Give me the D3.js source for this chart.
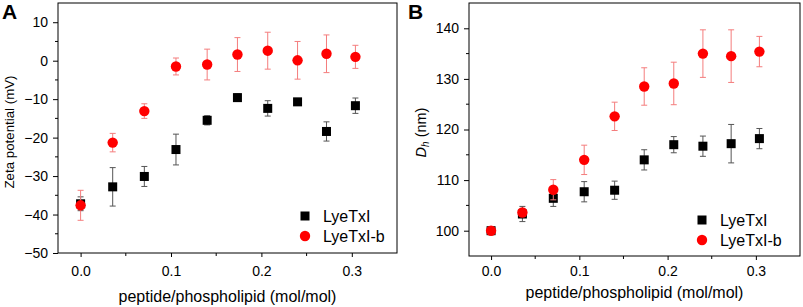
<!DOCTYPE html>
<html>
<head>
<meta charset="utf-8">
<script src="https://cdn.jsdelivr.net/npm/d3@7"></script>
<style>
  body { margin: 0; background: #fff; }
  svg text { font-family: "Liberation Sans", Arial, sans-serif; }
</style>
</head>
<body>
<div id="chart"></div>
<script>
// x values (peptide/phospholipid ratio)
const ratios = [0, 0.0355, 0.0705, 0.1055, 0.14, 0.1735, 0.207, 0.24, 0.272, 0.304];

// Panel A: zeta potential (mV)
const zetaLye = [-37.2, -32.8, -30.1, -23.1, -15.5, -9.6, -12.4, -10.7, -18.4, -11.7];
const zetaLyeErr = [1.8, 5.0, 2.6, 4.0, 1.2, 1.0, 2.0, 0.7, 2.5, 2.0];
const zetaLyeB = [-37.6, -21.3, -13.1, -1.5, -1.0, 1.6, 2.6, 0.1, 1.8, 1.0];
const zetaLyeBErr = [3.9, 2.4, 1.9, 2.2, 4.0, 4.4, 4.8, 4.9, 4.9, 3.0];

// Panel B: hydrodynamic diameter (nm)
const dhLye = [100, 103.3, 106.4, 107.7, 108.0, 114.0, 117.0, 116.7, 117.2, 118.2];
const dhLyeErr = [0.3, 1.5, 1.6, 2.0, 1.8, 2.0, 1.6, 2.0, 3.8, 2.0];
const dhLyeB = [100, 103.6, 108.1, 114.0, 122.6, 128.5, 129.1, 135.0, 134.5, 135.4];
const dhLyeBErr = [0.2, 0.8, 2.0, 2.9, 2.8, 3.7, 4.2, 4.7, 5.2, 3.0];

const xTicks = [0, 0.1, 0.2, 0.3];
const xMinor = [0.05, 0.15, 0.25];
const seriesNames = ["LyeTxI", "LyeTxI-b"];

const svg = d3.select("#chart").append("svg")
  .attr("width", 803)
  .attr("height", 307);

function panel(opt) {
  const g = svg.append("g");
  const x = d3.scaleLinear().domain([-0.025, 0.35]).range([opt.left, opt.right]);
  const y = d3.scaleLinear().domain(opt.yDomain).range([opt.bottom, opt.top]);

  // frame
  g.append("rect")
    .attr("x", opt.left).attr("y", opt.top)
    .attr("width", opt.right - opt.left).attr("height", opt.bottom - opt.top)
    .attr("fill", "none").attr("stroke", "#000").attr("stroke-width", 1);

  // x axis
  const xa = g.append("g")
    .attr("transform", `translate(0,${opt.bottom})`)
    .call(d3.axisBottom(x).tickValues(xTicks).tickSize(4).tickPadding(opt.xPad).tickFormat(d3.format(".1f")));
  xa.select(".domain").remove();
  xa.selectAll("text").style("font-size", "14px").style("font-family", "Liberation Sans, Arial");
  g.append("g").selectAll("line").data(xMinor).join("line")
    .attr("x1", d => x(d)).attr("x2", d => x(d))
    .attr("y1", opt.bottom).attr("y2", opt.bottom + 3)
    .attr("stroke", "#000");

  // y axis
  const ya = g.append("g")
    .attr("transform", `translate(${opt.left},0)`)
    .call(d3.axisLeft(y).tickValues(opt.yTicks).tickSize(5).tickPadding(5));
  ya.select(".domain").remove();
  ya.selectAll("text").style("font-size", "14px").style("font-family", "Liberation Sans, Arial");
  g.append("g").selectAll("line").data(opt.yMinor).join("line")
    .attr("x1", opt.left).attr("x2", opt.left - 3)
    .attr("y1", d => y(d)).attr("y2", d => y(d))
    .attr("stroke", "#000");

  // x title
  g.append("text")
    .attr("x", (opt.left + opt.right) / 2)
    .attr("y", opt.xTitleY)
    .attr("text-anchor", "middle")
    .style("font-size", "16px")
    .text("peptide/phospholipid (mol/mol)");

  // panel letter
  g.append("text")
    .attr("x", opt.letterX).attr("y", 19)
    .style("font-size", "21px").style("font-weight", "bold")
    .text(opt.letter);

  const series = [
    {vals: opt.black, err: opt.blackErr, color: "#000", errColor: "#555", shape: "square"},
    {vals: opt.red, err: opt.redErr, color: "#ff0000", errColor: "#f47d7d", shape: "circle"}
  ];

  series.forEach(s => {
    const sg = g.append("g");
    const pts = ratios.map((r, i) => ({x: r, v: s.vals[i], e: s.err[i]}));
    sg.selectAll(".bar").data(pts).join("line")
      .attr("x1", d => x(d.x)).attr("x2", d => x(d.x))
      .attr("y1", d => y(d.v - d.e)).attr("y2", d => y(d.v + d.e))
      .attr("stroke", s.errColor).attr("stroke-width", 1);
    [-1, 1].forEach(sign => {
      sg.append("g").selectAll("line").data(pts).join("line")
        .attr("x1", d => x(d.x) - 3).attr("x2", d => x(d.x) + 3)
        .attr("y1", d => y(d.v + sign * d.e)).attr("y2", d => y(d.v + sign * d.e))
        .attr("stroke", s.errColor).attr("stroke-width", 1);
    });
    if (s.shape === "square") {
      sg.append("g").selectAll("rect").data(pts).join("rect")
        .attr("x", d => x(d.x) - 4.5).attr("y", d => y(d.v) - 4.5)
        .attr("width", 9).attr("height", 9)
        .attr("fill", s.color);
    } else {
      sg.append("g").selectAll("circle").data(pts).join("circle")
        .attr("cx", d => x(d.x)).attr("cy", d => y(d.v))
        .attr("r", 5.2)
        .attr("fill", s.color);
    }
  });

  // legend
  const lg = g.append("g").attr("transform", `translate(${opt.legX},${opt.legY})`);
  seriesNames.forEach((name, i) => {
    const row = lg.append("g").attr("transform", `translate(0,${i * 20})`);
    if (i === 0) {
      row.append("rect").attr("x", -4.5).attr("y", -4.5).attr("width", 9).attr("height", 9).attr("fill", "#000");
    } else {
      row.append("circle").attr("r", 5.2).attr("fill", "#ff0000");
    }
    row.append("text").attr("x", 18).attr("y", 5.5).style("font-size", "16px").text(name);
  });

  return {g, x, y};
}

const pA = panel({
  left: 58, right: 397, top: 3, bottom: 253,
  yDomain: [-50, 15], yTicks: [-50, -40, -30, -20, -10, 0, 10],
  yMinor: [-45, -35, -25, -15, -5, 5],
  black: zetaLye, blackErr: zetaLyeErr, red: zetaLyeB, redErr: zetaLyeBErr,
  letter: "A", letterX: 2, xTitleY: 302, xPad: 9,
  legX: 305, legY: 216
});
pA.g.append("text")
  .attr("transform", "rotate(-90)")
  .attr("x", -132).attr("y", 13.5)
  .attr("text-anchor", "middle")
  .style("font-size", "13.3px")
  .text("Zeta potential (mV)");

const pB = panel({
  left: 469, right: 800, top: 3, bottom: 256,
  yDomain: [95, 145], yTicks: [100, 110, 120, 130, 140],
  yMinor: [105, 115, 125, 135],
  black: dhLye, blackErr: dhLyeErr, red: dhLyeB, redErr: dhLyeBErr,
  letter: "B", letterX: 408, xTitleY: 298, xPad: 6,
  legX: 702, legY: 220
});
const yl = pB.g.append("text")
  .attr("transform", "rotate(-90)")
  .attr("x", -132.5).attr("y", 426)
  .attr("text-anchor", "middle")
  .style("font-size", "14.5px");
yl.append("tspan").style("font-style", "italic").text("D");
yl.append("tspan").style("font-style", "italic").style("font-size", "10px").attr("dy", 3).text("h");
yl.append("tspan").attr("dy", -3).text(" (nm)");
</script>
</body>
</html>
